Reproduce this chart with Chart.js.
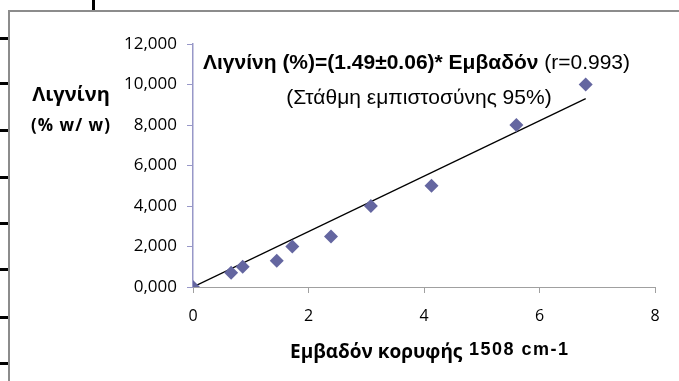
<!DOCTYPE html>
<html>
<head>
    <title>Λιγνίνη</title>
    <script src="https://cdn.jsdelivr.net/npm/chart.js"></script>
    <style>
        body { margin: 0; background: #fff; width: 679px; height: 381px; overflow: hidden; position: relative; }
        #chart { position: absolute; left: 0; top: 0; }
        .frame-top { position: absolute; left: 8px; top: 10px; width: 671px; height: 2px; background: #8c8c8c; }
        .frame-left { position: absolute; left: 8px; top: 10px; width: 2px; height: 371px; background: #8c8c8c; }
        .cell-v { position: absolute; left: 92px; top: 0; width: 3px; height: 10px; background: #000; }
        .cell-h { position: absolute; left: 0; width: 8px; height: 3px; background: #000; }
    </style>
</head>
<body>
<div class="frame-top"></div>
<div class="frame-left"></div>
<div class="cell-v"></div>
<div id="marks"></div>
<canvas id="chart" width="679" height="381"></canvas>

<script>
// εμβαδόν κορυφής 1508 cm-1 / λιγνίνη (% w/w)
const area   = [0, 0.66, 0.86, 1.45, 1.72, 2.39, 3.08, 4.13, 5.6, 6.8];
const lignin = [0, 0.7, 1.0, 1.3, 2.0, 2.5, 4.0, 5.0, 8.0, 10.0];

// γραμμή τάσης (άκρα, όπως φαίνονται)
const trendX = [0, 6.8];
const trendY = [0, 9.3];

const yTickLabels = ['0,000', '2,000', '4,000', '6,000', '8,000', '10,000', '12,000'];
const xTickLabels = ['0', '2', '4', '6', '8'];

// γραμμές του πίνακα στα αριστερά
const markTops = [37, 82, 129, 176, 222, 268, 316, 362];
markTops.forEach(t => {
    const d = document.createElement('div');
    d.className = 'cell-h';
    d.style.top = t + 'px';
    document.getElementById('marks').appendChild(d);
});

const calib = '"Open Sans", "Noto Sans", sans-serif';
const arial = '"Liberation Sans", Arial, sans-serif';

// κείμενα μέσα στο γράφημα
const textPlugin = {
    id: 'texts',
    afterDraw(chart) {
        const ctx = chart.ctx;
        ctx.save();
        ctx.fillStyle = '#000';
        ctx.textBaseline = 'alphabetic';
        ctx.textAlign = 'left';

        // εξίσωση
        ctx.font = 'bold 21px ' + arial;
        const eq = 'Λιγνίνη (%)=(1.49±0.06)* Εμβαδόν ';
        ctx.fillText(eq, 203, 69);
        const w = ctx.measureText(eq).width;
        ctx.font = '21px ' + arial;
        ctx.fillText('(r=0.993)', 203 + w, 69);

        ctx.textAlign = 'center';
        ctx.fillText('(Στάθμη εμπιστοσύνης 95%)', 419, 104);

        // τίτλος άξονα y
        ctx.font = 'bold 20px ' + calib;
        ctx.fillText('Λιγνίνη', 71, 101);
        ctx.font = 'bold 17px ' + calib;
        ctx.letterSpacing = '1px';
        ctx.fillText('(% w/ w)', 71, 131);
        ctx.letterSpacing = '0px';

        // τίτλος άξονα x
        ctx.textAlign = 'left';
        ctx.font = 'bold 19px ' + calib;
        ctx.fillText('Εμβαδόν κορυφής', 290, 358);
        ctx.font = 'bold 18px ' + arial;
        ctx.letterSpacing = '1.5px';
        ctx.fillText('1508 cm-1', 469, 355);
        ctx.letterSpacing = '0px';
        ctx.restore();
    }
};

new Chart(document.getElementById('chart'), {
    type: 'scatter',
    data: {
        datasets: [
            {
                label: 'Λιγνίνη',
                data: area.map((x, i) => ({ x: x, y: lignin[i] })),
                pointStyle: 'rectRot',
                pointRadius: 7,
                pointHoverRadius: 7,
                backgroundColor: '#6466a0',
                borderWidth: 0,
                order: 1
            },
            {
                label: 'Γραμμή τάσης',
                data: trendX.map((x, i) => ({ x: x, y: trendY[i] })),
                showLine: true,
                pointRadius: 0,
                borderColor: '#000',
                borderWidth: 1.3,
                order: 2
            }
        ]
    },
    options: {
        responsive: false,
        devicePixelRatio: 1,
        animation: false,
        events: [],
        layout: { padding: { left: 0, top: 44, right: 24, bottom: 0 } },
        plugins: { legend: { display: false }, tooltip: { enabled: false } },
        scales: {
            x: {
                type: 'linear',
                min: 0,
                max: 8,
                ticks: {
                    stepSize: 2,
                    padding: 14,
                    color: '#000',
                    font: { family: calib, size: 16 },
                    callback: (v, i) => xTickLabels[i]
                },
                grid: { drawOnChartArea: false, tickLength: 6, color: '#a0a0a0' },
                border: { color: '#a0a0a0', width: 1 },
                afterFit: s => { s.height = 94; }
            },
            y: {
                min: 0,
                max: 12,
                ticks: {
                    stepSize: 2,
                    padding: 10,
                    color: '#000',
                    font: { family: calib, size: 17 },
                    callback: (v, i) => yTickLabels[i]
                },
                grid: { drawOnChartArea: false, tickLength: 6, color: '#9898c8' },
                border: { color: '#9898c8', width: 1.5 },
                afterFit: s => { s.width = 193; }
            }
        }
    },
    plugins: [textPlugin]
});
</script>
</body>
</html>
